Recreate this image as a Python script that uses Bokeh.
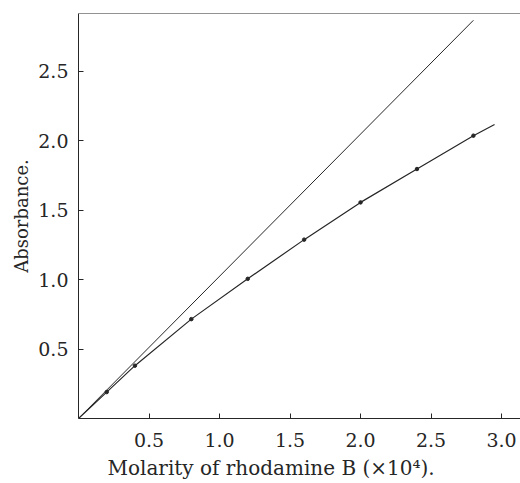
from bokeh.plotting import figure
from bokeh.models import FixedTicker, Range1d, Span, PrintfTickFormatter, Title
from bokeh.embed import file_html
from bokeh.resources import INLINE

# Data
molarity = [0.0, 0.2, 0.4, 0.8, 1.2, 1.6, 2.0, 2.4, 2.8]
absorbance = [0.0, 0.19, 0.38, 0.715, 1.005, 1.287, 1.555, 1.795, 2.035]
curve_x = [0.0, 0.2, 0.4, 0.8, 1.2, 1.6, 2.0, 2.4, 2.8, 2.95]
curve_y = [0.0, 0.19, 0.38, 0.715, 1.005, 1.287, 1.555, 1.795, 2.035, 2.115]
beer_x = [0.0, 2.8]
beer_y = [0.0, 2.865]
x_ticks = [0.5, 1.0, 1.5, 2.0, 2.5, 3.0]
y_ticks = [0.5, 1.0, 1.5, 2.0, 2.5]
x_label = "Molarity of rhodamine B (\u00d710\u2074)."
y_label = "Absorbance."

FONT = "DejaVu Serif"
INK = "#262626"
X_END = 3.134
Y_END = 2.914

p = figure(width=520, height=483, output_backend="svg", toolbar_location=None,
           x_range=Range1d(0, X_END), y_range=Range1d(0, Y_END),
           min_border_left=78, min_border_right=0, min_border_top=13,
           min_border_bottom=62)
p.outline_line_color = None
p.grid.visible = False
p.background_fill_color = "white"
p.border_fill_color = "white"

for ax, ticks in ((p.xaxis[0], x_ticks), (p.yaxis[0], y_ticks)):
    ax.ticker = FixedTicker(ticks=ticks)
    ax.formatter = PrintfTickFormatter(format="%.1f")
    ax.minor_tick_line_color = None
    ax.major_tick_in = 5
    ax.major_tick_out = 0
    ax.axis_line_color = INK
    ax.major_tick_line_color = INK
    ax.major_label_text_font = FONT
    ax.major_label_text_font_size = "19px"
    ax.major_label_text_color = INK
p.yaxis.major_label_standoff = 10
p.xaxis.major_label_standoff = 14

p.yaxis.axis_label = y_label
p.yaxis.axis_label_text_font = FONT
p.yaxis.axis_label_text_font_size = "18px"
p.yaxis.axis_label_text_font_style = "normal"
p.yaxis.axis_label_text_color = INK
p.yaxis.axis_label_standoff = 3

# top border line
p.add_layout(Span(location=Y_END, dimension="width", line_color=INK, line_width=1))

p.add_layout(Title(text=x_label, align="left", offset=29, text_font=FONT,
                   text_font_size="20px", text_font_style="normal",
                   text_color=INK, standoff=8), "below")

p.line(beer_x, beer_y, line_color=INK, line_width=1)
p.line(curve_x, curve_y, line_color=INK, line_width=1.2)
p.scatter(molarity[1:], absorbance[1:], size=3.5, fill_color=INK, line_color=INK)

open("out.html", "w").write(file_html(p, INLINE))
